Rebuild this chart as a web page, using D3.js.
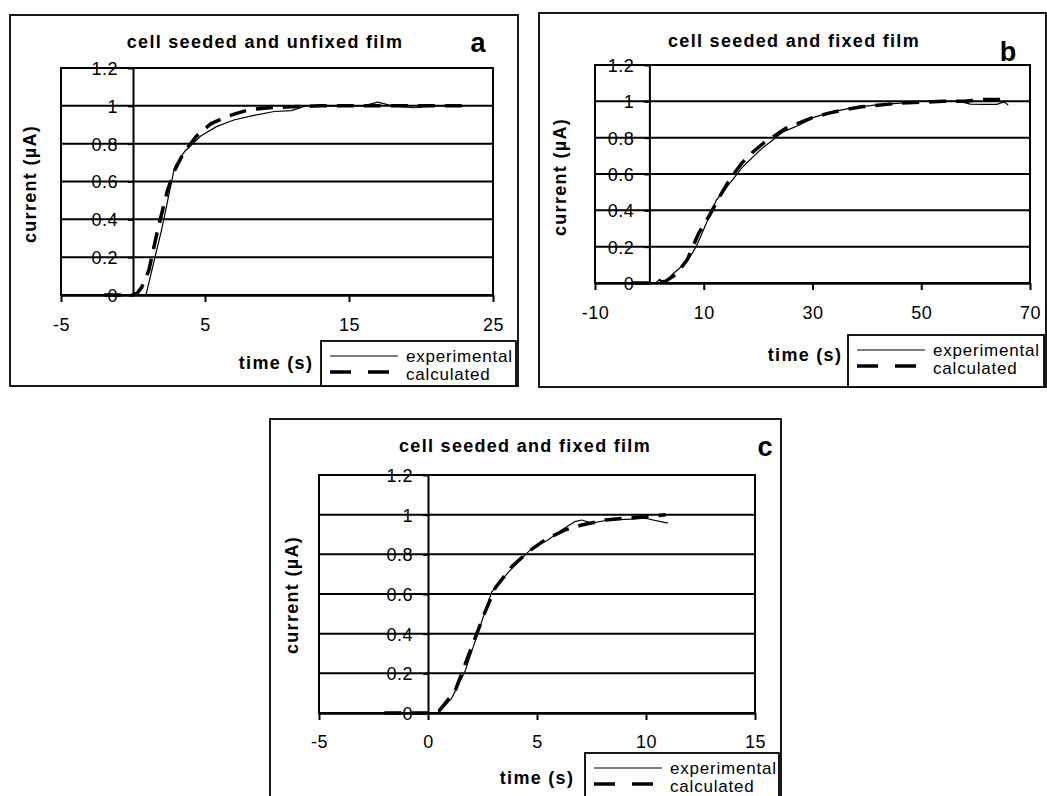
<!DOCTYPE html>
<html>
<head>
<meta charset="utf-8">
<script src="https://cdn.jsdelivr.net/npm/d3@7"></script>
<style>
    body { margin: 0; background: #fff; }
    text { font-family: Arial, "Liberation Sans", sans-serif; fill: #000; }
    .title, .axistitle { font-weight: bold; font-size: 18px; letter-spacing: 1.3px; }
    .ticktext { font-size: 18px; letter-spacing: 0.5px; }
    .legendtext { font-size: 17px; letter-spacing: 0.8px; }
    .letter { font-weight: bold; font-size: 27px; }
</style>
</head>
<body>
<div id="main_div"></div>
<script>
/** shared texts and ticks **/
const yTicks = [0, 0.2, 0.4, 0.6, 0.8, 1, 1.2];
const yTickLabels = ["0", "0.2", "0.4", "0.6", "0.8", "1", "1.2"];
const legendLabels = ["experimental", "calculated"];
const xTitle = "time (s)";
const yTitle = "current (µA)";

/** panel a **/
const titleA = "cell seeded and unfixed film";
const xTicksA = [-5, 5, 15, 25];
const expTimeA = [-2, 0, 0.9, 2.0, 2.9, 3.6, 4.7, 5.8, 7.0, 8.4, 9.8, 11.0, 12.0, 14.0, 16.0, 17.0, 18.0, 19.5, 21.0, 23.0];
const expA = [0, 0, 0, 0.35, 0.68, 0.76, 0.84, 0.89, 0.925, 0.95, 0.97, 0.975, 1.0, 1.0, 1.0, 1.02, 1.0, 0.99, 1.0, 1.0];
const calcTimeA = [-2, 0, 0.3, 0.6, 1.1, 1.7, 2.4, 2.9, 3.5, 4.4, 5.4, 6.4, 7.2, 8.1, 9.5, 11, 13, 15, 17, 19, 21, 23];
const calcA = [0, 0, 0.01, 0.04, 0.13, 0.34, 0.555, 0.66, 0.75, 0.84, 0.905, 0.94, 0.96, 0.98, 0.99, 0.995, 1, 1, 1, 1, 1, 1];

/** panel b **/
const titleB = "cell seeded and fixed film";
const xTicksB = [-10, 10, 30, 50, 70];
const expTimeB = [-3, 1.2, 1.9, 2.8, 4.3, 5.5, 7.4, 8.6, 10.5, 12.3, 14.8, 17.2, 20.3, 22.7, 24.6, 27.6, 30.2, 33.8, 37.5, 41.8, 46.1, 49.8, 53.5, 57.1, 59.0, 61.5, 63.9, 65.2, 66.0];
const expB = [0, 0, 0.02, 0, 0.05, 0.08, 0.14, 0.2, 0.33, 0.455, 0.55, 0.64, 0.73, 0.787, 0.832, 0.87, 0.912, 0.943, 0.965, 0.98, 0.99, 1.0, 1.0, 1.0, 0.985, 0.983, 0.983, 0.997, 0.98];
const calcTimeB = [-3, 1, 3, 5, 7, 9, 11, 13, 15, 17, 19, 21, 23, 25, 27, 30, 33, 36, 39, 42, 46, 50, 54, 58, 61, 64.5];
const calcB = [0, 0, 0.01, 0.05, 0.13, 0.27, 0.37, 0.48, 0.58, 0.66, 0.72, 0.77, 0.81, 0.85, 0.875, 0.91, 0.935, 0.955, 0.97, 0.978, 0.99, 0.995, 1.0, 1.0, 1.01, 1.01];

/** panel c **/
const titleC = "cell seeded and fixed film";
const xTicksC = [-5, 0, 5, 10, 15];
const expTimeC = [-2, 0, 0.47, 1.09, 1.7, 2.31, 2.92, 3.69, 4.14, 4.76, 5.52, 6.13, 6.74, 7.05, 7.51, 8.27, 9.34, 9.95, 11.0];
const expC = [0, 0, 0, 0.075, 0.21, 0.41, 0.61, 0.71, 0.762, 0.83, 0.873, 0.923, 0.965, 0.973, 0.957, 0.973, 0.978, 0.982, 0.957];
const calcTimeC = [-2, 0, 0.5, 1.24, 1.7, 2.16, 2.62, 3.08, 3.84, 4.61, 5.37, 6.29, 7.05, 8.12, 9.04, 10.0, 10.9];
const calcC = [0, 0, 0.01, 0.11, 0.245, 0.378, 0.51, 0.63, 0.738, 0.814, 0.873, 0.923, 0.948, 0.973, 0.982, 0.99, 1.0];

/** layout of each panel (box/plot = [left, top, right, bottom]) **/
const panels = [
    { letter: "a", title: titleA, xDomain: [-5, 25], xTicks: xTicksA,
      exp: [expTimeA, expA], calc: [calcTimeA, calcA],
      box: [10, 15, 518, 386], plot: [61, 68, 493, 295],
      titlePos: [265, 48], letterPos: [478, 52], yTitlePos: [30, 184],
      xTitlePos: [276, 369], legendPos: [321, 341], tickY: 331 },
    { letter: "b", title: titleB, xDomain: [-10, 70], xTicks: xTicksB,
      exp: [expTimeB, expB], calc: [calcTimeB, calcB],
      box: [539, 13, 1046, 387], plot: [595, 65, 1030, 283],
      titlePos: [794, 47], letterPos: [1008, 61], yTitlePos: [560, 177],
      xTitlePos: [805, 361], legendPos: [848, 335], tickY: 319 },
    { letter: "c", title: titleC, xDomain: [-5, 15], xTicks: xTicksC,
      exp: [expTimeC, expC], calc: [calcTimeC, calcC],
      box: [270, 419, 781, 800], plot: [319, 475, 755, 713],
      titlePos: [525, 452], letterPos: [765, 456], yTitlePos: [292, 595],
      xTitlePos: [537, 784], legendPos: [585, 753], tickY: 748 }
];

const svg = d3.select("#main_div")
    .append("svg")
    .attr("width", 1047)
    .attr("height", 796)
    .attr("id", "main_svg");

panels.forEach(drawPanel);

function drawPanel(p) {
    let g = svg.append("g").attr("id", "panel_" + p.letter);

    let xScale = d3.scaleLinear().domain(p.xDomain).range([p.plot[0], p.plot[2]]);
    let yScale = d3.scaleLinear().domain([0, 1.2]).range([p.plot[3], p.plot[1]]);

    /** outer frame **/
    g.append("rect")
        .attr("x", p.box[0]).attr("y", p.box[1])
        .attr("width", p.box[2] - p.box[0]).attr("height", p.box[3] - p.box[1])
        .attr("fill", "none").attr("stroke", "#000").attr("stroke-width", 1.8);

    /** y axis sits at x = 0, labels drawn first so gridlines cross them **/
    let yAxis = d3.axisLeft(yScale)
        .tickValues(yTicks)
        .tickSize(5)
        .tickSizeOuter(0)
        .tickPadding(10)
        .tickFormat((d, i) => yTickLabels[i]);
    let yg = g.append("g")
        .attr("transform", "translate(" + xScale(0) + ",0)")
        .call(yAxis)
        .attr("font-size", null).attr("font-family", null);
    yg.selectAll(".tick text").attr("class", "ticktext").attr("dy", "0.36em");
    yg.selectAll(".tick line").attr("stroke-width", 2);
    yg.select(".domain").attr("stroke-width", 2);

    /** gridlines **/
    g.selectAll(".grid")
        .data(yTicks.slice(1))
        .enter()
        .append("line")
        .attr("class", "grid")
        .attr("x1", p.plot[0]).attr("x2", p.plot[2])
        .attr("y1", d => yScale(d)).attr("y2", d => yScale(d))
        .attr("stroke", "#000").attr("stroke-width", 2);

    /** plot area border **/
    g.append("rect")
        .attr("x", p.plot[0]).attr("y", p.plot[1])
        .attr("width", p.plot[2] - p.plot[0]).attr("height", p.plot[3] - p.plot[1])
        .attr("fill", "none").attr("stroke", "#000").attr("stroke-width", 2);

    /** x axis **/
    let xAxis = d3.axisBottom(xScale)
        .tickValues(p.xTicks)
        .tickSize(7)
        .tickSizeOuter(0)
        .tickFormat(d => String(d));
    let xg = g.append("g")
        .attr("transform", "translate(0," + yScale(0) + ")")
        .call(xAxis)
        .attr("font-size", null).attr("font-family", null);
    xg.select(".domain").attr("stroke-width", 2.4);
    xg.selectAll(".tick line").attr("stroke-width", 2);
    xg.selectAll(".tick text")
        .attr("class", "ticktext")
        .attr("y", p.tickY - yScale(0))
        .attr("dy", 0);

    /** data lines **/
    let line = d3.line()
        .x(d => xScale(d[0]))
        .y(d => yScale(d[1]));

    g.append("path")
        .datum(d3.zip(p.exp[0], p.exp[1]))
        .attr("d", line)
        .attr("fill", "none").attr("stroke", "#000").attr("stroke-width", 1.2);

    g.append("path")
        .datum(d3.zip(p.calc[0], p.calc[1]))
        .attr("d", line)
        .attr("fill", "none").attr("stroke", "#000").attr("stroke-width", 3.5)
        .attr("stroke-dasharray", "17,10");

    /** texts **/
    g.append("text").attr("class", "title")
        .attr("x", p.titlePos[0]).attr("y", p.titlePos[1])
        .attr("text-anchor", "middle").text(p.title);

    g.append("text").attr("class", "letter")
        .attr("x", p.letterPos[0]).attr("y", p.letterPos[1])
        .attr("text-anchor", "middle").text(p.letter);

    g.append("text").attr("class", "axistitle")
        .attr("transform", "translate(" + p.yTitlePos[0] + "," + p.yTitlePos[1] + ") rotate(-90)")
        .attr("text-anchor", "middle").attr("dy", "0.35em").text(yTitle);

    g.append("text").attr("class", "axistitle")
        .attr("x", p.xTitlePos[0]).attr("y", p.xTitlePos[1])
        .attr("text-anchor", "middle").text(xTitle);

    /** legend **/
    let lx = p.legendPos[0], ly = p.legendPos[1];
    g.append("rect")
        .attr("x", lx).attr("y", ly)
        .attr("width", p.box[2] - 2 - lx).attr("height", p.box[3] - ly)
        .attr("fill", "#fff").attr("stroke", "#000").attr("stroke-width", 1.8);

    g.append("line")
        .attr("x1", lx + 9).attr("x2", lx + 77)
        .attr("y1", ly + 15).attr("y2", ly + 15)
        .attr("stroke", "#000").attr("stroke-width", 1.2);
    g.append("line")
        .attr("x1", lx + 9).attr("x2", lx + 77)
        .attr("y1", ly + 31).attr("y2", ly + 31)
        .attr("stroke", "#000").attr("stroke-width", 3.5)
        .attr("stroke-dasharray", "21,17");

    g.selectAll(".legendtext")
        .data(legendLabels)
        .enter()
        .append("text")
        .attr("class", "legendtext")
        .attr("x", lx + 85)
        .attr("y", (d, i) => ly + 21 + i * 18)
        .text(d => d);
}
</script>
</body>
</html>
